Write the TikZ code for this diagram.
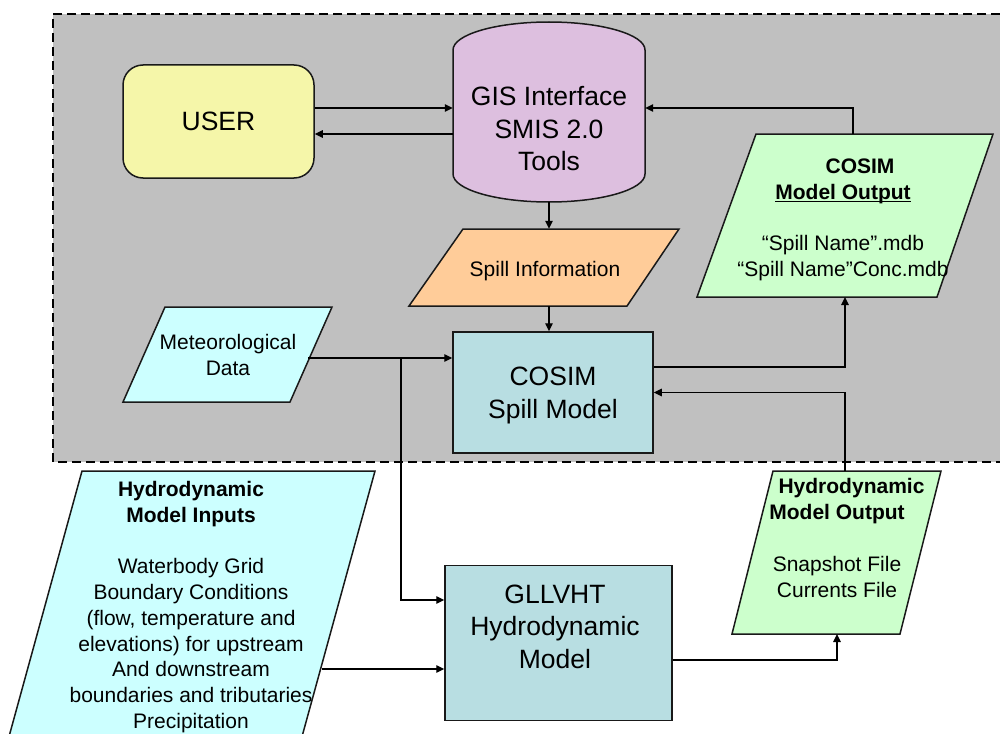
\documentclass[tikz,border=0pt]{standalone}
\usepackage{fontspec}
\setmainfont{Liberation Sans}
\usetikzlibrary{arrows.meta}
\definecolor{bg}{HTML}{C0C0C0}
\definecolor{userc}{HTML}{F5F6A9}
\definecolor{gisc}{HTML}{DDBFDF}
\definecolor{spillc}{HTML}{FFCC99}
\definecolor{modc}{HTML}{B8DEE2}
\definecolor{cyanc}{HTML}{CCFFFF}
\definecolor{greenc}{HTML}{CCFFCC}
\newcommand\myul[1]{\setbox0\hbox{#1}\rlap{\rule[-2.5pt]{\wd0}{1.2pt}}\box0}
\begin{document}
\begin{tikzpicture}[x=1pt,y=-1pt,
  shapeline/.style={draw=black!90, line width=1.5pt},
  arr/.style={line width=1.3pt, -{Triangle[length=8pt,width=7.5pt]}},
  bigtext/.style={font=\fontsize{26.5}{32.5}\selectfont, align=center, inner sep=0pt},
  smalltext/.style={font=\fontsize{21}{25.8}\selectfont, align=center, inner sep=0pt},
  modelbox/.style={shapeline, fill=modc, rectangle, inner sep=0pt},
]
\useasboundingbox (0,0) rectangle (1000,733);
\clip (0,0) rectangle (1000,733);
% background region
\fill[bg] (53,14) rectangle (1000,462);
\draw[line width=1.3pt, dash pattern=on 9pt off 5pt] (1000,14) -- (53,14) -- (53,462) -- (1000,462);

% USER
\node[shapeline, fill=userc, rounded corners=20pt, minimum width=191pt, minimum height=113pt, bigtext] (user) at (218.5,121.5) {USER};

% GIS cylinder
\draw[shapeline, fill=gisc] (453,50) -- (453,174) arc[start angle=180, end angle=0, x radius=96, y radius=28] -- (645,50) arc[start angle=0, end angle=-180, x radius=96, y radius=28] -- cycle;
\node[minimum width=192pt, minimum height=180pt, inner sep=0pt] (gis) at (549,112) {};
\node[bigtext] (gistext) at (549,129) {GIS Interface\\SMIS 2.0\\Tools};

% Spill information
\draw[shapeline, fill=spillc] (463,229) -- (679,229) -- (627,306) -- (409,306) -- cycle;
\node[minimum width=164pt, minimum height=77pt, inner sep=0pt] (spill) at (545,267.5) {};
\node[smalltext] (spilltext) at (545,271) {Spill Information};

% COSIM spill model
\node[modelbox, minimum width=200pt, minimum height=121pt] (cosim) at (553,392.5) {};
\node[bigtext] (cosimtext) at (553,395.5) {COSIM\\Spill Model};

% GLLVHT
\node[modelbox, minimum width=227pt, minimum height=155pt] (gll) at (558.5,643) {};
\node[bigtext] (glltext) at (555,626.5) {GLLVHT\\Hydrodynamic\\Model};

% Meteorological data
\draw[shapeline, fill=cyanc] (165,307) -- (332,307) -- (290,402) -- (123,402) -- cycle;
\node[smalltext] (met) at (228,355) {Meteorological\\Data};

% COSIM model output
\draw[shapeline, fill=greenc] (756,134) -- (993,134) -- (937,297) -- (697,297) -- cycle;
\node[smalltext] (cosout) at (843,220) {\hspace*{34pt}\textbf{COSIM}\\\textbf{\myul{Model Output}}\\[25.8pt]“Spill Name”.mdb\\“Spill Name”Conc.mdb};

% Hydrodynamic model output
\draw[shapeline, fill=greenc] (773,471) -- (941,471) -- (900,634) -- (732,634) -- cycle;
\node[smalltext] (hydout) at (837,538) {\hspace*{29pt}\textbf{Hydrodynamic}\\\textbf{Model Output}\\[25.8pt]Snapshot File\\Currents File};

% Hydrodynamic model inputs
\draw[shapeline, fill=cyanc] (82,471) -- (375,471) -- (299.7,745) -- (6.7,745) -- cycle;
\node[smalltext] (hydin) at (191,607) {\textbf{Hydrodynamic}\\\textbf{Model Inputs}\\[25.8pt]Waterbody Grid\\Boundary Conditions\\(flow, temperature and\\elevations) for upstream\\And downstream\\boundaries and tributaries\\Precipitation};

% connection points
\coordinate (metout) at (308,358);
\coordinate (junc) at (401,358);
\coordinate (hydinout) at (322,669);
\coordinate (cosoutin) at (845,297);
\coordinate (cosouttop) at (853,134);
\coordinate (hydouttop) at (845,471);
\coordinate (hydoutin) at (837,634);
\coordinate (uo) at ([yshift=13.5pt]user.east);
\coordinate (ui) at ([yshift=-12.5pt]user.east);
\coordinate (gllin) at ([yshift=43pt]gll.west);
\coordinate (co) at ([yshift=25.5pt]cosim.east);
\coordinate (gi) at ([yshift=4pt]gis.east);
\coordinate (go) at ([yshift=-17pt]gll.east);

% connectors
\draw[arr] (uo) -- (uo -| gis.west);
\draw[arr] (ui -| gis.west) -- (ui);
\draw[arr] (gis.south) -- (gis.south |- spill.north);
\draw[arr] (gis.south |- spill.south) -- (gis.south |- cosim.north);
\draw[arr] (metout) -- (metout -| cosim.west);
\draw[arr] (junc) |- (gllin);
\draw[arr] (hydinout) -- (hydinout -| gll.west);
\draw[arr] (co) -| (cosoutin);
\draw[arr] (hydouttop) |- (cosim.east);
\draw[arr] (cosouttop) |- (gi);
\draw[arr] (go) -| (hydoutin);
\end{tikzpicture}
\end{document}
